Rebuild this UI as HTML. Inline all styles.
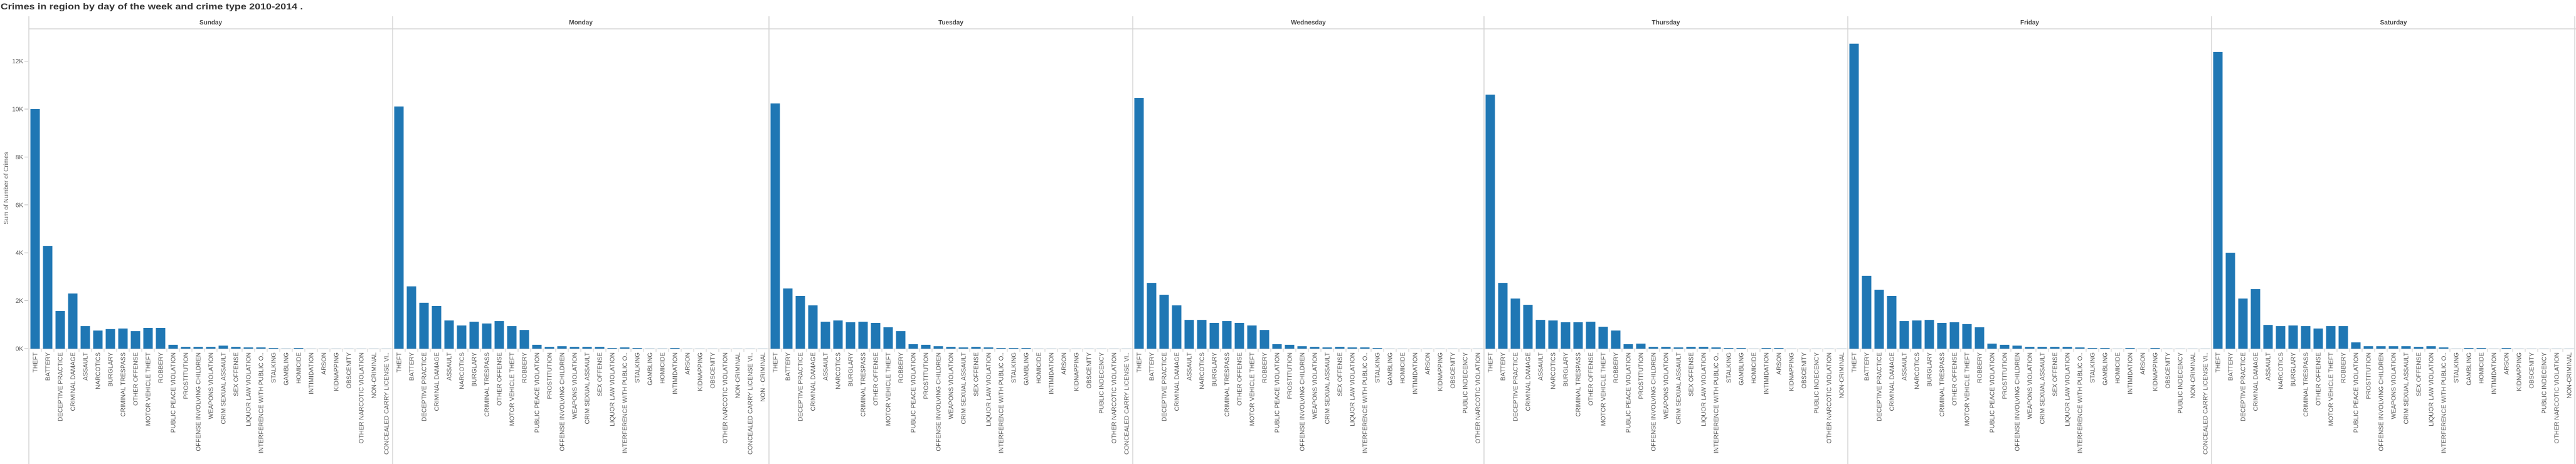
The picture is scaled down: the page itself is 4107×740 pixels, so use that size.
<!DOCTYPE html>
<html><head><meta charset="utf-8">
<style>
html,body{margin:0;padding:0;background:#fff;}
svg{display:block;font-family:"Liberation Sans",Arial,sans-serif;}
</style></head>
<body>
<svg id="chart" width="4107" height="740" viewBox="0 0 4107 740" xmlns="http://www.w3.org/2000/svg">
<text x="1" y="15" font-size="14" font-weight="bold" fill="#333" textLength="482" lengthAdjust="spacingAndGlyphs">Crimes in region by day of the week and crime type 2010-2014 .</text>
<text transform="translate(13,300) rotate(-90)" text-anchor="middle" font-size="10" fill="#666">Sum of Number of Crimes</text>
</svg>
<script>
const days = ["Sunday","Monday","Tuesday","Wednesday","Thursday","Friday","Saturday"];
const baseCats = ["THEFT","BATTERY","DECEPTIVE PRACTICE","CRIMINAL DAMAGE","ASSAULT","NARCOTICS","BURGLARY","CRIMINAL TRESPASS","OTHER OFFENSE","MOTOR VEHICLE THEFT","ROBBERY","PUBLIC PEACE VIOLATION","PROSTITUTION","OFFENSE INVOLVING CHILDREN","WEAPONS VIOLATION","CRIM SEXUAL ASSAULT","SEX OFFENSE","LIQUOR LAW VIOLATION","INTERFERENCE WITH PUBLIC O..","STALKING","GAMBLING","HOMICIDE","INTIMIDATION","ARSON","KIDNAPPING","OBSCENITY"];
const tailSunday = ["OTHER NARCOTIC VIOLATION","NON-CRIMINAL","CONCEALED CARRY LICENSE VI.."];
const tailMonday = ["OTHER NARCOTIC VIOLATION","NON-CRIMINAL","CONCEALED CARRY LICENSE VI..","NON - CRIMINAL"];
const tailTuesday = ["PUBLIC INDECENCY","OTHER NARCOTIC VIOLATION","CONCEALED CARRY LICENSE VI.."];
const tailWednesday = ["PUBLIC INDECENCY","OTHER NARCOTIC VIOLATION"];
const tailThursday = ["PUBLIC INDECENCY","OTHER NARCOTIC VIOLATION","NON-CRIMINAL"];
const tailFriday = ["PUBLIC INDECENCY","NON-CRIMINAL","CONCEALED CARRY LICENSE VI.."];
const tailSaturday = ["PUBLIC INDECENCY","OTHER NARCOTIC VIOLATION","NON-CRIMINAL"];
const valSunday = [10000,4290,1570,2300,940,754,816,840,730,865,865,160,75,75,75,125,75,50,50,25,5,25,3,3,3,3,3,3,3];
const valMonday = [10110,2600,1915,1780,1175,965,1125,1050,1150,940,780,160,75,100,75,75,75,25,50,25,5,5,25,3,3,3,3,3,3,3];
const valTuesday = [10235,2510,2200,1805,1125,1175,1100,1125,1075,890,730,185,160,100,75,50,75,50,25,25,25,3,3,3,3,3,3,3,3];
const valWednesday = [10470,2745,2250,1805,1200,1200,1075,1150,1075,965,780,185,160,100,75,50,75,50,50,25,3,3,3,3,3,3,3,3];
const valThursday = [10605,2745,2090,1830,1200,1175,1100,1100,1125,915,755,185,210,75,75,50,75,75,50,25,25,3,25,25,3,3,3,3,3];
const valFriday = [12730,3040,2460,2200,1150,1175,1200,1075,1100,1025,890,210,160,125,75,75,75,75,50,25,25,3,25,3,25,3,3,3,3];
const valSaturday = [12385,4005,2090,2485,990,940,965,940,840,940,940,260,100,100,100,100,75,100,50,3,25,25,3,25,3,3,3,3,3];
const yTicks = [0,2000,4000,6000,8000,10000,12000];
const yTickLabels = ["0K","2K","4K","6K","8K","10K","12K"];

const tails = [tailSunday,tailMonday,tailTuesday,tailWednesday,tailThursday,tailFriday,tailSaturday];
const vals = [valSunday,valMonday,valTuesday,valWednesday,valThursday,valFriday,valSaturday];
const NS = "http://www.w3.org/2000/svg";
const svg = document.getElementById('chart');
const plotLeft = 46, band = 20, baseY = 556, topY = 46, yMax = 13350;
function y(v){ return baseY - v/yMax*(baseY-topY); }
function mk(tag, attrs, parent){ const e=document.createElementNS(NS,tag); for(const k in attrs) e.setAttribute(k,attrs[k]); (parent||svg).appendChild(e); return e; }

// header bottom line
let hl = mk('line',{x1:plotLeft,x2:4107,y1:topY,y2:topY,stroke:'#d6d6d6','stroke-width':1.5});


// y axis ticks
yTicks.forEach((t,i)=>{
  const tl = mk('line',{x1:39,x2:45,y1:y(t),y2:y(t),stroke:'#bbb'});
  
  
  const tx = mk('text',{x:37,y:y(t)+3.5,'text-anchor':'end','font-size':10,fill:'#555'});
  
  
  tx.textContent = yTickLabels[i];
});

let x0 = plotLeft;
days.forEach((d,di)=>{
  const cats = baseCats.concat(tails[di]);
  const w = cats.length*band;
  const g = mk('g',{});
  
  
  const bl = mk('line',{x1:x0,x2:x0,y1:26,y2:740,stroke:'#d6d6d6','stroke-width':1.5},g);
  
  
  const ht = mk('text',{x:x0+w/2,y:39,'text-anchor':'middle','font-size':10,'font-weight':'bold',fill:'#444'},g);
  
  
  ht.textContent = d;
  const ax = mk('line',{x1:x0,x2:x0+w,y1:baseY+0.5,y2:baseY+0.5,stroke:'#ccc'},g);
  
  
  cats.forEach((c,ci)=>{
    const cx = x0 + ci*band + band/2;
    const v = vals[di][ci] || 0;
    const r = mk('rect',{x:cx-7.5,y:y(v),width:15,height:baseY-y(v),fill:'#1f77b4'},g);
    
    
    if(ci>0){
      const tk = mk('line',{x1:x0+ci*band,x2:x0+ci*band,y1:baseY,y2:baseY+5,stroke:'#ccc'},g);
      
      
    }
    const lt = mk('text',{transform:`translate(${cx+3.5},${baseY+6}) rotate(-90)`,'text-anchor':'end','font-size':10,fill:'#555'},g);
    
    
    lt.textContent = c;
  });
  x0 += w;
});
const rb = mk('line',{x1:4105,x2:4105,y1:26,y2:740,stroke:'#d6d6d6','stroke-width':1.5});


</script>
</body></html>
